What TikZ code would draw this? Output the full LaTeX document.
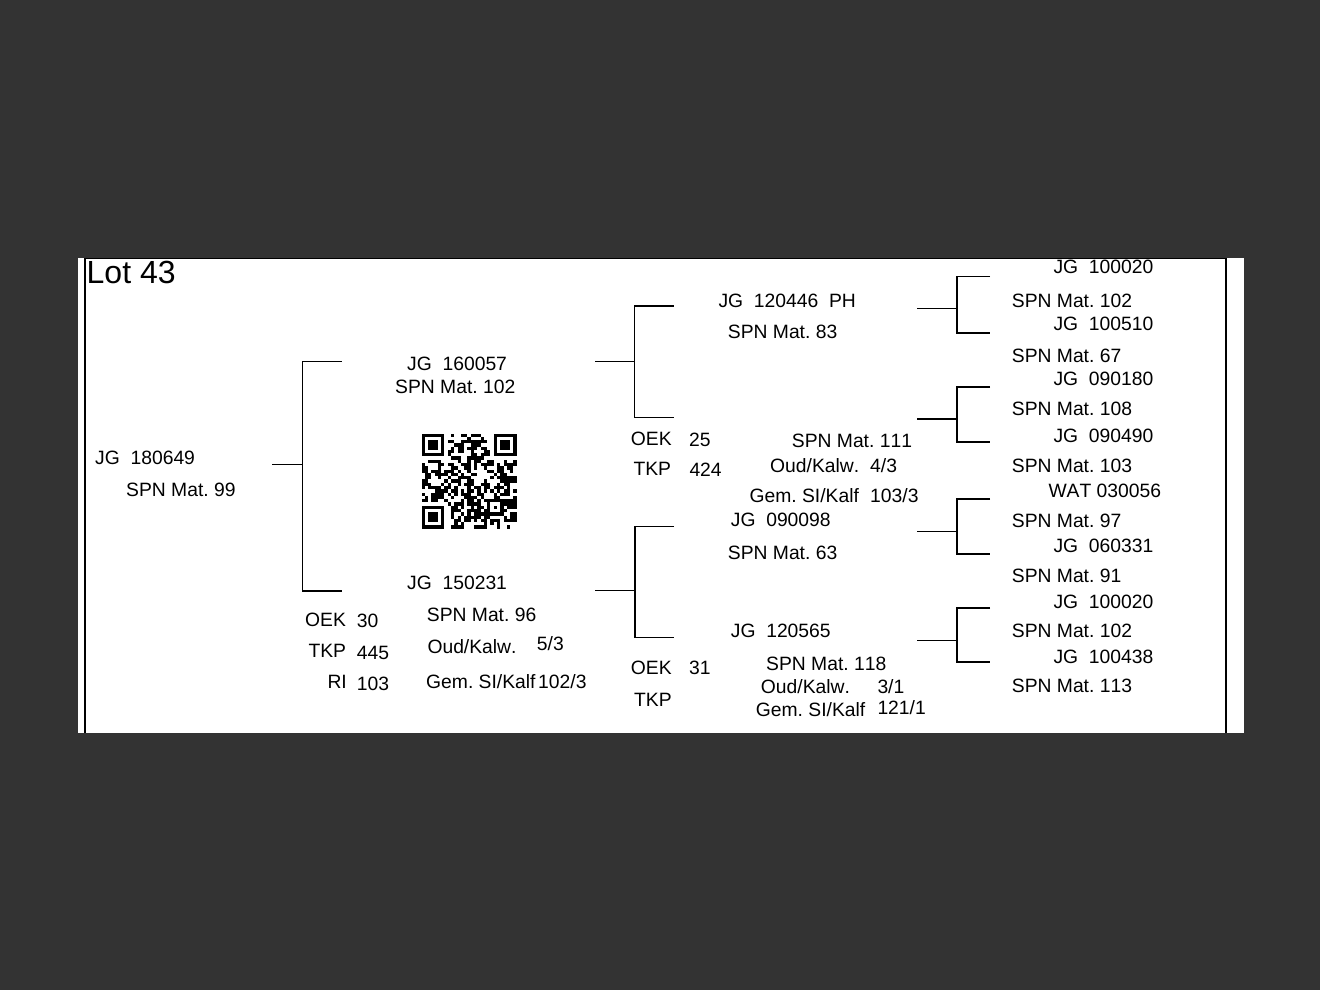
\documentclass[tikz,border=0pt]{standalone}
\usepackage{fontspec}
\setmainfont{Liberation Sans}[Kerning=Off]
\definecolor{bgdark}{RGB}{51,51,51}
\tikzset{
  t/.style={anchor=base west, inner sep=0pt, font=\fontsize{19.3}{22}\selectfont\frenchspacing},
  big/.style={anchor=base west, inner sep=0pt, font=\fontsize{32}{36}\selectfont},
  ln/.style={line width=1.1pt, black},
  frame/.style={line width=1.2pt, black},
}
\begin{document}
\begin{tikzpicture}[x=1pt,y=-1pt]
\useasboundingbox (0,0) rectangle (1320,990);
\fill[bgdark] (0,0) rectangle (1320,990);
\fill[white] (78,258) rectangle (1244,733);
% frame
\coordinate (fTL) at (85,258.6);
\coordinate (fTR) at (1226,258.6);
\coordinate (fBL) at (85,733);
\coordinate (fBR) at (1226,733);
\draw[frame] (fBL) -- (fTL) -- (fTR) -- (fBR);

\node[big] (lot) at (86.5,283) {Lot 43};

% generation 1
\node[t] (g1a) at (95,464) {JG\ \ 180649};
\node[t] (g1b) at (126,496) {SPN Mat. 99};

% generation 2 sire
\node[t] (s1) at (407,370) {JG\ \ 160057};
\node[t] (s2) at (395,393) {SPN Mat. 102};

% generation 2 dam
\node[t] (d1) at (407,589.5) {JG\ \ 150231};
\node[t] (d2) at (426.7,621.7) {SPN Mat. 96};
\node[t] (d3) at (427.3,653) {Oud/Kalw.};
\node[t] (d3v) at (536.7,650.5) {5/3};
\node[t] (d4) at (426,688.3) {Gem. SI/Kalf};
\node[t] (d4v) at (538,688.3) {102/3};
\node[t] (d5) at (305,626) {OEK};
\node[t] (d5v) at (356.7,627) {30};
\node[t] (d6) at (308.3,657.3) {TKP};
\node[t] (d6v) at (356.7,659) {445};
\node[t] (d7) at (327.3,688) {RI};
\node[t] (d7v) at (356.7,690.7) {103};

% generation 3 (sire side)
\node[t] (ss1) at (718.3,307) {JG\ \ 120446\ \ PH};
\node[t] (ss2) at (727.7,338.3) {SPN Mat. 83};
\node[t] (sd1) at (630.7,445.7) {OEK};
\node[t] (sd1v) at (689,446) {25};
\node[t] (sd2) at (633.3,475) {TKP};
\node[t] (sd2v) at (689.3,476.7) {424};
\node[t] (sd3) at (791.7,447.7) {SPN Mat. 111};
\node[t] (sd4) at (770,472) {Oud/Kalw.};
\node[t] (sd4v) at (870,472) {4/3};
\node[t] (sd5) at (749.3,502.3) {Gem. SI/Kalf};
\node[t] (sd5v) at (870,502.3) {103/3};

% generation 3 (dam side)
\node[t] (ds1) at (730.7,526.7) {JG\ \ 090098};
\node[t] (ds2) at (727.7,559) {SPN Mat. 63};
\node[t] (dd1) at (730.7,637.3) {JG\ \ 120565};
\node[t] (dd2) at (630.7,674.3) {OEK};
\node[t] (dd2v) at (689,674.3) {31};
\node[t] (dd3) at (634,706.7) {TKP};
\node[t] (dd4) at (766,670) {SPN Mat. 118};
\node[t] (dd5) at (760.7,693.3) {Oud/Kalw.};
\node[t] (dd5v) at (877.3,693) {3/1};
\node[t] (dd6) at (755.7,716) {Gem. SI/Kalf};
\node[t] (dd6v) at (877.3,714.3) {121/1};

% generation 4
\node[t] (a1) at (1053.3,273.5) {JG\ \ 100020};
\node[t] (a2) at (1011.7,307.5) {SPN Mat. 102};
\node[t] (a3) at (1053.3,330.5) {JG\ \ 100510};
\node[t] (a4) at (1011.7,362.5) {SPN Mat. 67};
\node[t] (a5) at (1053.3,385) {JG\ \ 090180};
\node[t] (a6) at (1011.7,415.5) {SPN Mat. 108};
\node[t] (a7) at (1053.3,442) {JG\ \ 090490};
\node[t] (a8) at (1011.7,472) {SPN Mat. 103};
\node[t] (a9) at (1048.3,497.3) {WAT 030056};
\node[t] (a10) at (1011.7,527.5) {SPN Mat. 97};
\node[t] (a11) at (1053.3,552.5) {JG\ \ 060331};
\node[t] (a12) at (1011.7,582.5) {SPN Mat. 91};
\node[t] (a13) at (1053.3,608) {JG\ \ 100020};
\node[t] (a14) at (1011.7,637) {SPN Mat. 102};
\node[t] (a15) at (1053.3,663) {JG\ \ 100438};
\node[t] (a16) at (1011.7,692.5) {SPN Mat. 113};

% connectors generation 1 -> 2
\coordinate (c1in) at (272,464.3);
\coordinate (c1m) at (302.3,464.3);
\coordinate (c1t) at (302.3,361.3);
\coordinate (c1b) at (302.3,591);
\coordinate (c1te) at (341.7,361.3);
\coordinate (c1be) at (341.7,591);
\draw[ln] (c1in) -- (c1m);
\draw[ln] (c1te) -- (c1t) -- (c1b) -- (c1be);

% generation 2 -> 3 (sire)
\coordinate (c2in) at (595,361.7);
\coordinate (c2m) at (634.3,361.7);
\coordinate (c2t) at (634.3,306);
\coordinate (c2b) at (634.3,417.7);
\coordinate (c2te) at (673.5,306);
\coordinate (c2be) at (673.5,417.7);
\draw[ln] (c2in) -- (c2m);
\draw[ln] (c2te) -- (c2t) -- (c2b) -- (c2be);

% generation 2 -> 3 (dam)
\coordinate (c3in) at (595,590.7);
\coordinate (c3m) at (635,590.7);
\coordinate (c3t) at (635,526.7);
\coordinate (c3b) at (635,637.3);
\coordinate (c3te) at (674,526.7);
\coordinate (c3be) at (674,637.3);
\draw[ln] (c3in) -- (c3m);
\draw[ln] (c3te) -- (c3t) -- (c3b) -- (c3be);

% generation 3 -> 4
\foreach \nm/\mid/\top/\bot in {g1/308.3/276.7/333, g2/419/387/442, g3/531.7/499/554, g4/640.7/608/662}{
  \coordinate (\nm in) at (917,\mid);
  \coordinate (\nm m) at (957,\mid);
  \coordinate (\nm t) at (957,\top);
  \coordinate (\nm b) at (957,\bot);
  \coordinate (\nm te) at (990,\top);
  \coordinate (\nm be) at (990,\bot);
  \draw[ln] (\nm in) -- (\nm m);
  \draw[ln] (\nm te) -- (\nm t) -- (\nm b) -- (\nm be);
}

% QR code
\def\qs{3.28}
\begin{scope}[shift={(421.5,433.5)}]
  \pgfmathsetseed{4711}
  \foreach \i in {0,...,28}{
    \foreach \j in {0,...,28}{
      \pgfmathtruncatemacro\qskip{(((\i<8)&&(\j<8))||((\i>20)&&(\j<8))||((\i<8)&&(\j>20))||((\i>19)&&(\i<25)&&(\j>19)&&(\j<25)))?1:0}
      \pgfmathrandominteger{\qr}{0}{1}
      \ifnum\qskip=0
        \ifnum\qr=1
          \fill[black] (\i*\qs,\j*\qs) rectangle ++(\qs,\qs);
        \fi
      \fi
    }
  }
  \foreach \fx/\fy in {0/0, 22/0, 0/22}{
    \fill[black] (\fx*\qs,\fy*\qs) rectangle ++(7*\qs,7*\qs);
    \fill[white] (\fx*\qs+\qs,\fy*\qs+\qs) rectangle ++(5*\qs,5*\qs);
    \fill[black] (\fx*\qs+2*\qs,\fy*\qs+2*\qs) rectangle ++(3*\qs,3*\qs);
  }
  \fill[black] (20*\qs,20*\qs) rectangle ++(5*\qs,5*\qs);
  \fill[white] (21*\qs,21*\qs) rectangle ++(3*\qs,3*\qs);
  \fill[black] (22*\qs,22*\qs) rectangle ++(\qs,\qs);
\end{scope}
\end{tikzpicture}
\end{document}
